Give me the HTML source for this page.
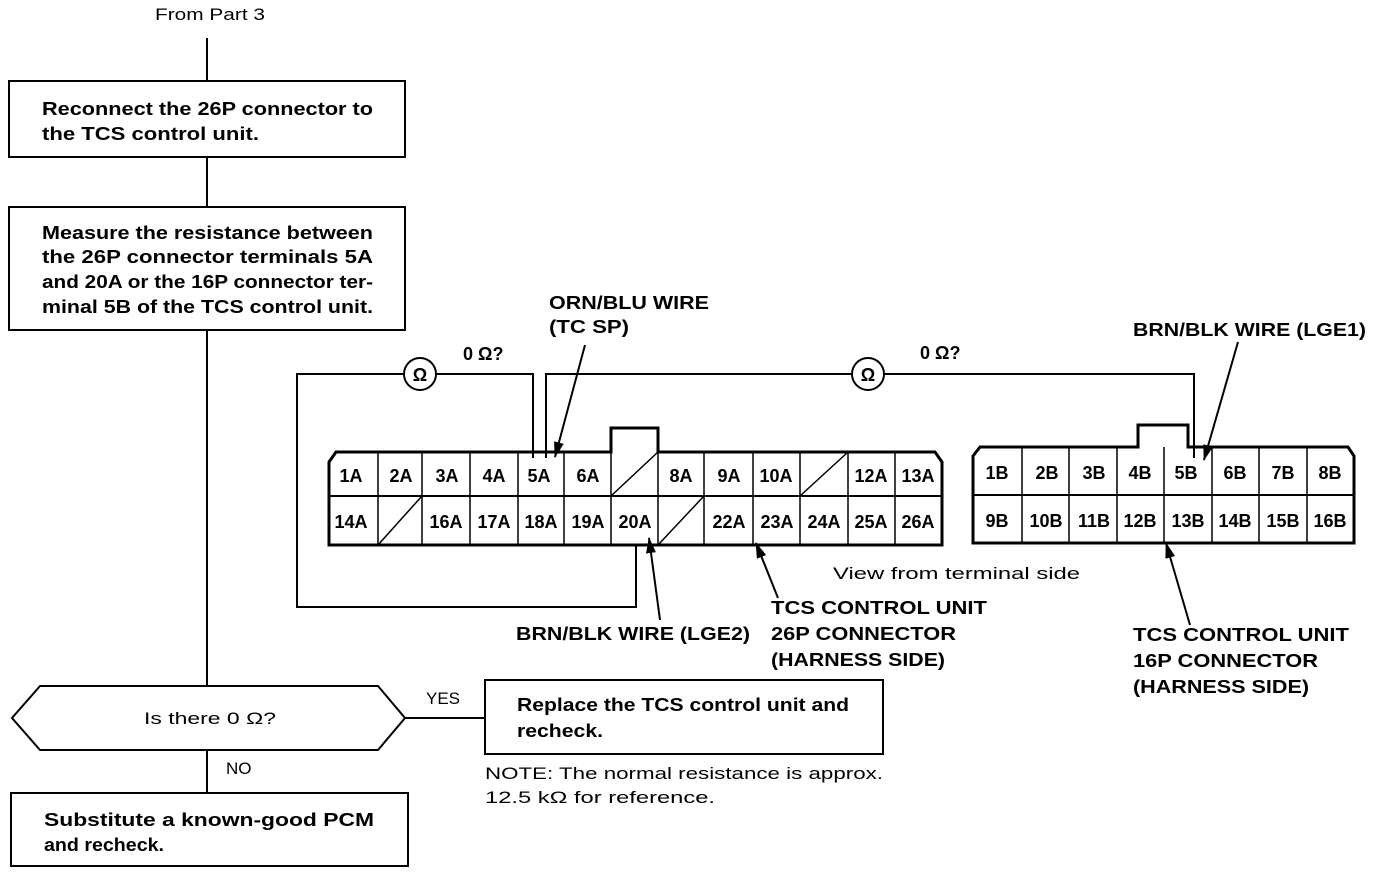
<!DOCTYPE html>
<html><head><style>
html,body{margin:0;padding:0;background:#fff;}
svg{display:block;}
text{font-family:"Liberation Sans",sans-serif;fill:#000;}
.b{font-weight:bold;font-size:18px;}
.n{font-size:17px;}
.c{font-size:18px;font-weight:bold;text-anchor:middle;}
</style></head><body>
<svg width="1376" height="874" viewBox="0 0 1376 874" xmlns="http://www.w3.org/2000/svg">
<defs><marker id="ah" markerWidth="16" markerHeight="12" refX="15" refY="5" orient="auto" markerUnits="userSpaceOnUse"><path d="M0,0 L16,5 L0,10 Z" fill="#000" stroke="none"/></marker></defs>
<g stroke="#000" fill="none" stroke-width="2">
<line x1="207" y1="38" x2="207" y2="81"/>
<rect x="9" y="81" width="396" height="76"/>
<line x1="207" y1="157" x2="207" y2="207"/>
<rect x="9" y="207" width="396" height="123"/>
<line x1="207" y1="330" x2="207" y2="686"/>
<polygon points="12,718 40,686 378,686 405,718 378,750 40,750"/>
<line x1="207" y1="750" x2="207" y2="793"/>
<rect x="11" y="793" width="397" height="73"/>
<line x1="405" y1="718" x2="485" y2="718"/>
<rect x="485" y="680" width="398" height="74"/>
<path d="M336,452 L611,452 L611,428 L658,428 L658,452 L935,452 L942,462 L942,545 L329,545 L329,462 Z" stroke-width="3"/>
<line x1="329" y1="496" x2="942" y2="496"/>
<g stroke-width="1.5">
<line x1="378" y1="452" x2="378" y2="545"/><line x1="422" y1="452" x2="422" y2="545"/>
<line x1="470" y1="452" x2="470" y2="545"/><line x1="518" y1="452" x2="518" y2="545"/>
<line x1="564" y1="452" x2="564" y2="545"/><line x1="611" y1="452" x2="611" y2="545"/>
<line x1="658" y1="452" x2="658" y2="545"/><line x1="704" y1="452" x2="704" y2="545"/>
<line x1="753" y1="452" x2="753" y2="545"/><line x1="800" y1="452" x2="800" y2="545"/>
<line x1="848" y1="452" x2="848" y2="545"/><line x1="895" y1="452" x2="895" y2="545"/>
<line x1="611" y1="496" x2="658" y2="452"/><line x1="800" y1="496" x2="848" y2="452"/>
<line x1="378" y1="545" x2="422" y2="496"/><line x1="658" y1="545" x2="704" y2="496"/>
</g>
<path d="M980,447 L1138,447 L1138,425 L1188,425 L1188,447 L1348,447 L1354,456 L1354,543 L973,543 L973,456 Z" stroke-width="3"/>
<line x1="973" y1="495" x2="1354" y2="495"/>
<g stroke-width="1.5">
<line x1="1022" y1="447" x2="1022" y2="543"/><line x1="1069" y1="447" x2="1069" y2="543"/>
<line x1="1117" y1="447" x2="1117" y2="543"/><line x1="1164" y1="447" x2="1164" y2="543"/>
<line x1="1212" y1="447" x2="1212" y2="543"/><line x1="1259" y1="447" x2="1259" y2="543"/>
<line x1="1307" y1="447" x2="1307" y2="543"/>
</g>
<path d="M636,545 L636,607 L297,607 L297,374 L404,374"/>
<path d="M436,374 L533,374 L533,458"/>
<circle cx="420" cy="374" r="16"/>
<path d="M546,458 L546,374 L852,374"/>
<circle cx="868" cy="374" r="16"/>
<path d="M884,374 L1194,374 L1194,458"/>
<line x1="585" y1="345" x2="555" y2="457" marker-end="url(#ah)"/>
<line x1="660" y1="620" x2="649" y2="538" marker-end="url(#ah)"/>
<line x1="778" y1="598" x2="756" y2="543" marker-end="url(#ah)"/>
<line x1="1190" y1="625" x2="1166" y2="543" marker-end="url(#ah)"/>
<line x1="1238" y1="342" x2="1204" y2="460" marker-end="url(#ah)"/>
</g>
<text class="n" x="155" y="20" textLength="110" lengthAdjust="spacingAndGlyphs">From Part 3</text>
<text class="b" x="42" y="115" textLength="331" lengthAdjust="spacingAndGlyphs">Reconnect the 26P connector to</text>
<text class="b" x="42" y="140" textLength="217" lengthAdjust="spacingAndGlyphs">the TCS control unit.</text>
<text class="b" x="42" y="239" textLength="331" lengthAdjust="spacingAndGlyphs">Measure the resistance between</text>
<text class="b" x="42" y="263" textLength="331" lengthAdjust="spacingAndGlyphs">the 26P connector terminals 5A</text>
<text class="b" x="42" y="288" textLength="331" lengthAdjust="spacingAndGlyphs">and 20A or the 16P connector ter-</text>
<text class="b" x="42" y="313" textLength="331" lengthAdjust="spacingAndGlyphs">minal 5B of the TCS control unit.</text>
<text class="n" x="144" y="724" textLength="132" lengthAdjust="spacingAndGlyphs">Is there 0 Ω?</text>
<text class="n" x="426" y="704" font-size="19">YES</text>
<text class="n" x="226" y="774" font-size="19">NO</text>
<text class="b" x="44" y="826" textLength="330" lengthAdjust="spacingAndGlyphs">Substitute a known-good PCM</text>
<text class="b" x="44" y="851" textLength="120" lengthAdjust="spacingAndGlyphs">and recheck.</text>
<text class="b" x="517" y="711" textLength="332" lengthAdjust="spacingAndGlyphs">Replace the TCS control unit and</text>
<text class="b" x="517" y="737" textLength="86" lengthAdjust="spacingAndGlyphs">recheck.</text>
<text class="n" x="485" y="779" textLength="398" lengthAdjust="spacingAndGlyphs">NOTE: The normal resistance is approx.</text>
<text class="n" x="485" y="803" textLength="230" lengthAdjust="spacingAndGlyphs">12.5 kΩ for reference.</text>
<text class="c" x="420" y="381" font-size="17">Ω</text>
<text class="c" x="868" y="381" font-size="17">Ω</text>
<text class="b" x="463" y="360" font-size="17">0 Ω?</text>
<text class="b" x="920" y="359" font-size="17">0 Ω?</text>
<text class="b" x="549" y="309" textLength="160" lengthAdjust="spacingAndGlyphs">ORN/BLU WIRE</text>
<text class="b" x="549" y="333" textLength="80" lengthAdjust="spacingAndGlyphs">(TC SP)</text>
<text class="b" x="1133" y="336" textLength="233" lengthAdjust="spacingAndGlyphs">BRN/BLK WIRE (LGE1)</text>
<text class="b" x="516" y="640" textLength="234" lengthAdjust="spacingAndGlyphs">BRN/BLK WIRE (LGE2)</text>
<text class="b" x="771" y="614" textLength="216" lengthAdjust="spacingAndGlyphs">TCS CONTROL UNIT</text>
<text class="b" x="771" y="640" textLength="185" lengthAdjust="spacingAndGlyphs">26P CONNECTOR</text>
<text class="b" x="771" y="666" textLength="174" lengthAdjust="spacingAndGlyphs">(HARNESS SIDE)</text>
<text class="b" x="1133" y="641" textLength="216" lengthAdjust="spacingAndGlyphs">TCS CONTROL UNIT</text>
<text class="b" x="1133" y="667" textLength="185" lengthAdjust="spacingAndGlyphs">16P CONNECTOR</text>
<text class="b" x="1133" y="693" textLength="176" lengthAdjust="spacingAndGlyphs">(HARNESS SIDE)</text>
<text class="n" x="833" y="579" textLength="247" lengthAdjust="spacingAndGlyphs">View from terminal side</text>
<text class="c" x="351" y="482">1A</text><text class="c" x="401" y="482">2A</text><text class="c" x="447" y="482">3A</text><text class="c" x="494" y="482">4A</text><text class="c" x="539" y="482">5A</text><text class="c" x="588" y="482">6A</text><text class="c" x="681" y="482">8A</text><text class="c" x="729" y="482">9A</text><text class="c" x="776" y="482">10A</text><text class="c" x="871" y="482">12A</text><text class="c" x="918" y="482">13A</text>
<text class="c" x="351" y="528">14A</text><text class="c" x="446" y="528">16A</text><text class="c" x="494" y="528">17A</text><text class="c" x="541" y="528">18A</text><text class="c" x="588" y="528">19A</text><text class="c" x="635" y="528">20A</text><text class="c" x="729" y="528">22A</text><text class="c" x="777" y="528">23A</text><text class="c" x="824" y="528">24A</text><text class="c" x="871" y="528">25A</text><text class="c" x="918" y="528">26A</text>
<text class="c" x="997" y="479">1B</text><text class="c" x="1047" y="479">2B</text><text class="c" x="1094" y="479">3B</text><text class="c" x="1140" y="479">4B</text><text class="c" x="1186" y="479">5B</text><text class="c" x="1235" y="479">6B</text><text class="c" x="1283" y="479">7B</text><text class="c" x="1330" y="479">8B</text>
<text class="c" x="997" y="527">9B</text><text class="c" x="1046" y="527">10B</text><text class="c" x="1094" y="527">11B</text><text class="c" x="1140" y="527">12B</text><text class="c" x="1188" y="527">13B</text><text class="c" x="1235" y="527">14B</text><text class="c" x="1283" y="527">15B</text><text class="c" x="1330" y="527">16B</text>
</svg>
</body></html>
